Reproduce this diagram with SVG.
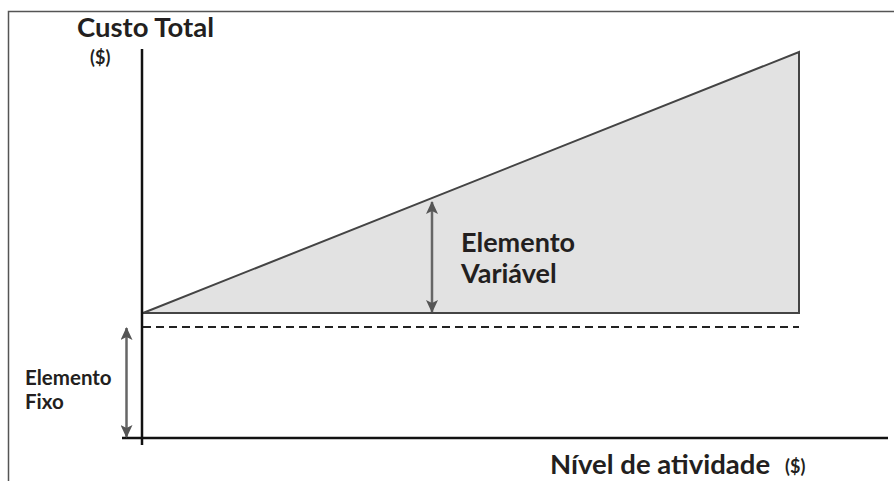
<svg xmlns="http://www.w3.org/2000/svg" width="894" height="481" viewBox="0 0 894 481">
<style>
.t{font-family:Lato,"Liberation Sans",sans-serif;font-weight:bold;fill:#231f20}
.arr{stroke:#666;stroke-width:2.5;fill:none}
</style>
<defs>
<marker id="ah" markerWidth="13" markerHeight="12" refX="12" refY="6" orient="auto-start-reverse" markerUnits="userSpaceOnUse">
<path d="M0,0 L13,6 L0,12 L3,6 Z" fill="#555"/>
</marker>
</defs>
<rect x="8.5" y="11.5" width="900" height="500" fill="#fff" stroke="#555" stroke-width="1.5"/>
<g id="area">
<polygon points="143,313 799,52 799,313" fill="#e2e2e2" stroke="#444" stroke-width="2"/>
</g>
<g id="axes">
<line x1="142" y1="49" x2="142" y2="445" stroke="#111" stroke-width="2.5"/>
<line x1="122" y1="438" x2="888" y2="438" stroke="#111" stroke-width="2.5"/>
</g>
<g id="connectors">
<line x1="143" y1="327" x2="799" y2="327" stroke="#222" stroke-width="2" stroke-dasharray="8,5"/>
<line class="arr" x1="432" y1="202" x2="432" y2="312" marker-start="url(#ah)" marker-end="url(#ah)"/>
<line class="arr" x1="126.5" y1="328" x2="126.5" y2="437" marker-start="url(#ah)" marker-end="url(#ah)"/>
</g>
<g id="labels">
<text class="t" x="77" y="37" font-size="27.5">Custo Total</text>
<text class="t" x="90" y="64" font-size="18">($)</text>
<text class="t" x="461" y="252" font-size="27">Elemento</text>
<text class="t" x="461" y="283" font-size="27">Variável</text>
<text class="t" x="25" y="385" font-size="20.5">Elemento</text>
<text class="t" x="25" y="409" font-size="20.5">Fixo</text>
<text class="t" x="550" y="474" font-size="27.5">Nível de atividade</text>
<text class="t" x="785" y="473" font-size="18">($)</text>
</g>
</svg>
